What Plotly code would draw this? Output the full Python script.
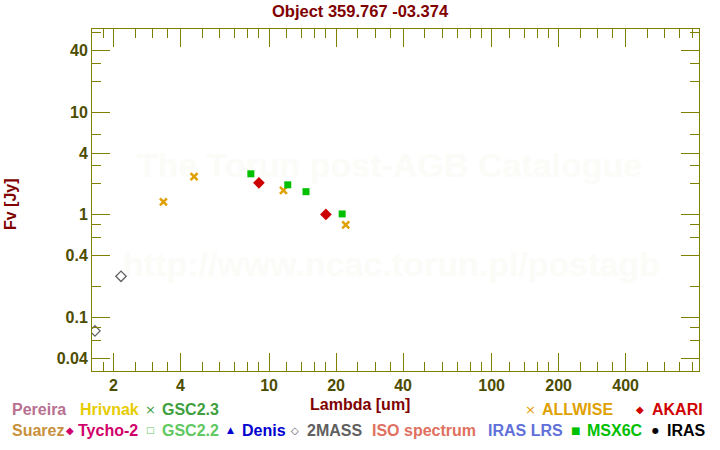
import numpy as np
import plotly.graph_objects as go

# ---------------- data ----------------
allwise_wl = [3.35, 4.6, 11.6, 22.1]
allwise_fv = [1.34, 2.35, 1.73, 0.80]

akari_wl = [9.0, 18.0]
akari_fv = [2.05, 1.01]

msx_wl = [8.28, 12.13, 14.65, 21.3]
msx_fv = [2.51, 1.96, 1.68, 1.02]

tmass_wl = [1.65, 2.16]
tmass_fv = [0.074, 0.252]

x_major = [2, 4, 10, 20, 40, 100, 200, 400]
x_minor = [1.8, 2.5, 3, 3.5, 5, 6, 7, 8, 9, 12, 14, 16, 18, 25, 30, 35,
           50, 60, 70, 80, 90, 120, 140, 160, 180, 250, 300, 350,
           500, 600, 700, 800]
y_major = [0.04, 0.1, 0.4, 1, 4, 10, 40]
y_minor = [0.03, 0.06, 0.08, 0.2, 0.6, 0.8, 2, 3, 6, 20, 30, 60]

title_text = "Object 359.767 -03.374"
x_title = "Lambda [um]"
y_title = "Fv [Jy]"

# ---------------- layout geometry (page pixel coords) ----------------
W, H = 720, 450
L, R, T, B = 92, 699, 29, 371
OLIVE = "#808000"
TICKCOL = "#4d4d00"
FONT = "Liberation Sans, Arial, sans-serif"


def px(x):
    return (x - L) / (R - L)


def py(y):
    return (B - y) / (B - T)


fig = go.Figure()

fig.add_trace(go.Scatter(x=tmass_wl, y=tmass_fv, mode="markers",
                         marker=dict(symbol="diamond-open", size=8, color="#606060",
                                     line=dict(width=1.3, color="#606060"))))
fig.add_trace(go.Scatter(x=allwise_wl, y=allwise_fv, mode="markers",
                         marker=dict(symbol="x-thin", size=7, color="#e0a000",
                                     line=dict(width=2.5, color="#e0a000"))))
fig.add_trace(go.Scatter(x=msx_wl, y=msx_fv, mode="markers",
                         marker=dict(symbol="square", size=7, color="#00c000",
                                     line=dict(width=0))))
fig.add_trace(go.Scatter(x=akari_wl, y=akari_fv, mode="markers",
                         marker=dict(symbol="diamond", size=9, color="#cc0000",
                                     line=dict(width=0))))

axis_common = dict(
    type="log", showgrid=False, zeroline=False, automargin=False,
    showline=True, linecolor=OLIVE, linewidth=1, mirror="ticks",
    ticks="inside", ticklen=18, tickcolor=OLIVE, tickwidth=1,
    tickfont=dict(family=FONT, size=16, color=TICKCOL, weight="bold"),
)

fig.update_xaxes(
    **axis_common,
    range=[np.log10(1.6), np.log10(855)],
    tickmode="array", tickvals=x_major, ticktext=[str(v) for v in x_major],
    minor=dict(tickmode="array", tickvals=x_minor, ticks="inside", ticklen=9,
               tickcolor=OLIVE, tickwidth=1, showgrid=False),
)
fig.update_yaxes(
    **axis_common,
    range=[np.log10(0.0301), np.log10(64.6)],
    tickmode="array", tickvals=y_major, ticktext=[str(v) for v in y_major],
    minor=dict(tickmode="array", tickvals=y_minor, ticks="inside", ticklen=9,
               tickcolor=OLIVE, tickwidth=1, showgrid=False),
)

# watermarks as shape labels below the traces
shapes = []
for cx, cy, txt in [(389.5, 162, "The Torun post-AGB Catalogue"),
                    (391.5, 261, "http://www.ncac.torun.pl/postagb")]:
    shapes.append(dict(
        type="rect", xref="paper", yref="paper", layer="below",
        x0=px(cx - 300), x1=px(cx + 300), y0=py(cy + 25), y1=py(cy - 25),
        line=dict(width=0), fillcolor="rgba(0,0,0,0)",
        label=dict(text=txt, textposition="middle center",
                   font=dict(family=FONT, size=34, color="#fbfbf8", weight="bold")),
    ))

ann = []
ann.append(dict(x=px(360), y=py(11), text=title_text,
                font=dict(family=FONT, size=16.5, color="#800000", weight="bold")))
ann.append(dict(x=px(360), y=py(404), text=x_title,
                font=dict(family=FONT, size=16, color="#800000", weight="bold")))
ann.append(dict(x=px(10), y=py(204), text=y_title, textangle=-90,
                font=dict(family=FONT, size=16, color="#800000", weight="bold")))

# legend: (symbol, symbol_x, symbol_size, label, label_x, row_y, color)
legend_items = [
    (None, 0, 0, "Pereira", 10, 410, "#b87090"),
    (None, 0, 0, "Hrivnak", 78, 410, "#e6cc00"),
    ("×", 150, 13, "GSC2.3", 160, 410, "#40a040"),
    ("×", 530.5, 13, "ALLWISE", 540, 410, "#e0a000"),
    ("◆", 640, 10, "AKARI", 650, 410, "#d00000"),
    (None, 0, 0, "Suarez", 10, 430, "#c8903c"),
    ("◆", 69.5, 10, "Tycho-2", 76, 430, "#d0006a"),
    ("□", 150, 9, "GSC2.2", 160, 430, "#60c860"),
    ("▲", 230, 9, "Denis", 240, 430, "#0000d0"),
    ("◇", 295, 10, "2MASS", 305, 430, "#606060"),
    (None, 0, 0, "ISO spectrum", 370, 430, "#e07060"),
    (None, 0, 0, "IRAS LRS", 486, 430, "#6070d8"),
    ("■", 575, 10, "MSX6C", 585, 430, "#00c000"),
    ("●", 655.5, 8, "IRAS", 665, 430, "#000000"),
]
for sym, sx, ss, label, lx, ry, col in legend_items:
    if sym:
        ann.append(dict(x=px(sx), y=py(ry), text=sym, xanchor="center",
                        font=dict(family="DejaVu Sans", size=ss, color=col)))
    ann.append(dict(x=px(lx), y=py(ry), text=label, xanchor="left",
                    font=dict(family=FONT, size=16, color=col, weight="bold")))

for a in ann:
    a.setdefault("xanchor", "center")
    a.update(xref="paper", yref="paper", yanchor="middle", showarrow=False)

fig.update_layout(
    width=W, height=H,
    margin=dict(l=L, r=W - R, t=T, b=H - B, pad=0),
    paper_bgcolor="white", plot_bgcolor="rgba(0,0,0,0)",
    showlegend=False,
    annotations=ann,
    shapes=shapes,
)

fig.write_html("out.html",
               config={"displayModeBar": False},
               post_script="document.body.style.margin='0px';"
                           "document.body.style.padding='0px';")
